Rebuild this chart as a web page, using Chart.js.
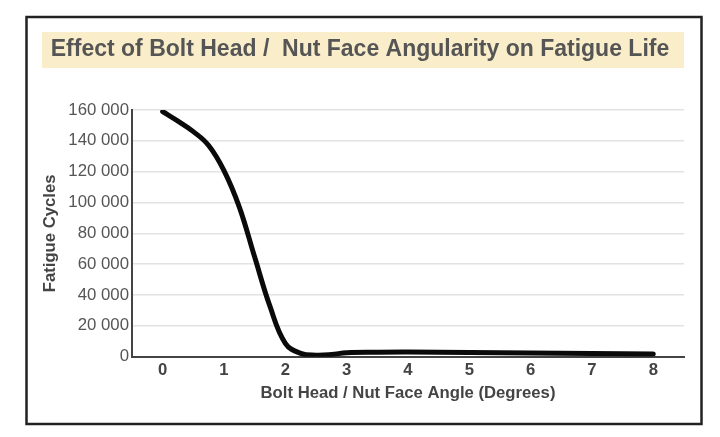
<!DOCTYPE html>
<html>
<head>
<meta charset="utf-8">
<script src="https://cdn.jsdelivr.net/npm/chart.js@4"></script>
<style>
body { margin: 0; background: #fff; }
#wrap { position: relative; width: 720px; height: 437px; }
</style>
</head>
<body>
<div id="wrap"><canvas id="fatigue"></canvas></div>
<script>
/* Data */
var angles = [0, 0.25, 0.5, 0.75, 1, 1.25, 1.5, 1.75, 2, 2.25, 2.5, 2.75, 3, 3.5, 4, 5, 6, 7, 8];
var cycles = [159000, 152800, 146000, 137000, 120700, 97000, 64600, 32600, 8700, 2200, 1000, 1400, 2600, 2900, 3000, 2700, 2400, 2100, 1800];
var angleTicks = [0, 1, 2, 3, 4, 5, 6, 7, 8];
var cycleTicks = [0, 20000, 40000, 60000, 80000, 100000, 120000, 140000, 160000];

var chartTitle = "Effect of Bolt Head /  Nut Face Angularity on Fatigue Life";
var xTitle = "Bolt Head / Nut Face Angle (Degrees)";
var yTitle = "Fatigue Cycles";

var fontFamily = "'Liberation Sans', Arial, Helvetica, sans-serif";

function spaced(v) {
	return String(v).replace(/\B(?=(\d{3})+(?!\d))/g, " ");
}

/* white page, title band and the outer frame */
var frame = {
	id: "frame",
	beforeDraw: function (chart) {
		var ctx = chart.ctx;
		ctx.save();
		ctx.fillStyle = "#fff";
		ctx.fillRect(0, 0, chart.width, chart.height);
		ctx.fillStyle = "#f9edca";
		ctx.fillRect(42, 32, 642, 36);
		ctx.strokeStyle = "#222";
		ctx.lineWidth = 2.5;
		ctx.strokeRect(26.5, 17, 675, 407);
		ctx.restore();
	},
};

var ctxFatigue = document.getElementById("fatigue");

var fatigueLine = new Chart(ctxFatigue, {
	type: "line",
	data: {
		labels: angles,
		datasets: [
			{
				data: angles.map(function (a, i) {
					return { x: a, y: cycles[i] };
				}),
				borderColor: "#0a0a0a",
				borderWidth: 5,
				borderCapStyle: "round",
				pointRadius: 0,
				tension: 0.4,
				fill: false,
			},
		],
	},
	options: {
		responsive: true,
		maintainAspectRatio: false,
		animation: false,
		layout: { padding: { left: 36, right: 36, top: 0, bottom: 0 } },
		plugins: {
			legend: { display: false },
			tooltip: { enabled: false },
			title: {
				display: true,
				text: chartTitle,
				color: "#555",
				font: { family: fontFamily, size: 23, weight: "bold" },
				padding: { top: 35.7, bottom: 46.7 },
			},
		},
		scales: {
			x: {
				type: "linear",
				min: -0.5,
				max: 8.5,
				afterBuildTicks: function (scale) {
					scale.ticks = angleTicks.map(function (v) {
						return { value: v };
					});
				},
				afterFit: function (scale) {
					scale.height = 80.3;
				},
				grid: { display: false, drawTicks: false },
				border: { display: true, color: "#444", width: 2 },
				ticks: {
					color: "#444",
					padding: 4,
					maxRotation: 0,
					font: { family: fontFamily, size: 16.7, weight: "bold" },
				},
				title: {
					display: true,
					text: xTitle,
					color: "#444",
					font: { family: fontFamily, size: 16.7, weight: "bold" },
					padding: { top: 0, bottom: 33.7 },
				},
			},
			y: {
				min: 0,
				max: 160000,
				afterBuildTicks: function (scale) {
					scale.ticks = cycleTicks.map(function (v) {
						return { value: v };
					});
				},
				afterFit: function (scale) {
					scale.width = 96;
				},
				grid: { color: "#e2e2e2", lineWidth: 1.5, drawTicks: false },
				border: { display: true, color: "#444", width: 2 },
				ticks: {
					color: "#555",
					padding: 3,
					font: { family: fontFamily, size: 16.8 },
					callback: function (v) {
						return spaced(v);
					},
				},
				title: {
					display: true,
					text: yTitle,
					color: "#444",
					font: { family: fontFamily, size: 16.7, weight: "bold" },
					padding: { top: 4, bottom: 0 },
				},
			},
		},
	},
	plugins: [frame],
});
</script>
</body>
</html>
